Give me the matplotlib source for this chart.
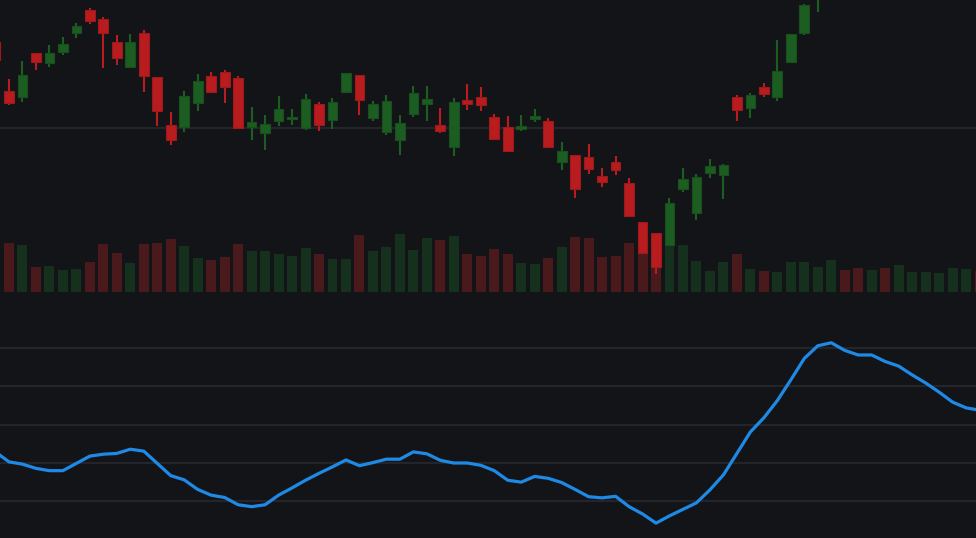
import matplotlib
matplotlib.use("Agg")
import matplotlib.pyplot as plt
import numpy as np

# ---------------- data (one entry per bar, left to right) ----------------
opens = [142.75, 118.25, 115.4, 137.1, 132.4, 137.75, 147.25, 158.75, 154.25, 142.75,
         130.25, 147.25, 125.1, 101.25, 100.25, 112.4, 125.75, 127.75, 124.75, 100.25,
         97.4, 103.25, 104.4, 99.75, 111.75, 103.75, 117.75, 126.25, 104.75, 97.75,
         93.75, 106.75, 111.75, 101.25, 90.25, 113.75, 115.25, 105.25, 100.25, 99.25,
         104.25, 103.25, 82.9, 86.1, 85.1, 75.6, 82.75, 72.25, 52.75, 47.25,
         41.25, 69.25, 57.25, 77.25, 76.25, 115.25, 109.9, 120.25, 115.25, 132.75,
         147.25, 166.5, 178, 192, 186, 181, 188, 183, 190, 196,
         201, 207, 212, 218]
closes = [133.75, 112.4, 126.25, 132.9, 137.25, 141.75, 150.75, 153.4, 147.4, 134.9,
          142.9, 125.9, 108.4, 93.9, 115.75, 123.25, 117.9, 120.4, 99.9, 102.75,
          101.75, 109.25, 105.25, 114.25, 101.25, 112.75, 127.25, 113.75, 111.75, 113.25,
          102.25, 117.25, 114.25, 98.25, 112.75, 111.9, 111.4, 94.4, 88.4, 100.75,
          105.75, 90.4, 88.25, 69.4, 79.4, 72.9, 78.9, 55.9, 37.4, 30.4,
          62.25, 74.25, 75.25, 80.75, 81.25, 108.9, 116.25, 116.9, 128.25, 146.75,
          161.25, 180, 192, 186, 181, 188, 183, 190, 196, 201,
          207, 212, 218, 214]
highs = [143.75, 124.25, 133.25, 137.1, 141.25, 145.25, 152.25, 159.75, 155.25, 146.25,
         146.9, 148.75, 125.1, 107.75, 118.25, 126.75, 127.75, 128.75, 125.6, 110.25,
         106.25, 115.75, 109.25, 116.75, 112.75, 114.75, 127.25, 126.25, 113.25, 116.25,
         106.25, 120.75, 120.75, 109.75, 114.75, 121.75, 120.25, 106.75, 105.75, 106.25,
         109.25, 104.75, 92.75, 86.1, 91.75, 79.75, 85.75, 74.75, 52.75, 47.25,
         64.75, 79.75, 76.75, 84.25, 81.75, 116.25, 117.25, 122.25, 143.75, 146.75,
         161.75, 184, 195, 196, 189, 191, 190, 193, 199, 204,
         210, 215, 221, 220]
lows = [132.75, 111.4, 112.9, 128.75, 130.4, 136.25, 144.9, 151.75, 129.75, 131.25,
        130.25, 117.75, 100.75, 91.25, 97.75, 108.25, 117.9, 112.25, 99.4, 93.75,
        88.75, 100.75, 101.25, 98.75, 98.25, 99.25, 117.75, 106.25, 103.25, 96.25,
        86.25, 105.25, 103.25, 97.25, 85.75, 108.75, 108.25, 94.4, 87.9, 98.25,
        102.75, 90.4, 78.75, 64.75, 76.75, 70.25, 76.25, 55.9, 36.75, 26.75,
        41.25, 67.75, 53.75, 74.75, 64.25, 103.25, 104.75, 115.25, 113.25, 132.75,
        146.25, 157.75, 176, 183, 178, 179, 180, 181, 188, 194,
        199, 205, 210, 211]
volumes = [357, 487, 470, 250, 257, 214, 230, 297, 474, 390,
           287, 480, 487, 530, 460, 337, 320, 350, 480, 410,
           410, 380, 360, 440, 380, 327, 330, 570, 407, 450,
           577, 420, 534, 514, 554, 380, 360, 430, 377, 290,
           280, 337, 450, 547, 537, 347, 360, 487, 517, 417,
           597, 467, 304, 207, 297, 374, 227, 204, 197, 297,
           297, 250, 317, 217, 237, 220, 237, 267, 194, 200,
           187, 237, 230, 207]
indicator = [22.9, 20.3, 19.7, 18.6, 18.0, 18.0, 19.9, 21.8, 22.3, 22.5,
             23.6, 23.1, 19.9, 16.7, 15.6, 13.1, 11.6, 11.0, 9.1, 8.6,
             9.1, 11.6, 13.5, 15.5, 17.3, 19.0, 20.8, 19.3, 20.1, 21.0,
             21.0, 22.9, 22.4, 20.7, 20.0, 20.0, 19.4, 18.0, 15.5, 15.0,
             16.5, 16.0, 14.9, 13.1, 11.2, 10.9, 11.3, 8.6, 6.7, 4.3,
             6.2, 7.9, 9.6, 13.0, 16.9, 22.5, 28.1, 31.8, 36.3, 41.7,
             47.3, 50.6, 51.4, 49.4, 48.2, 48.2, 46.5, 45.3, 43.0, 40.9,
             38.5, 35.9, 34.4, 33.8]
price_grid = [0, 100, 200]
indicator_grid = [10, 20, 30, 40, 50]

# ---------------- style ----------------
BG = "#131418"
GRID = "#24252a"
UP = "#1c5e21"
UP_EDGE = "#184f1c"
DOWN = "#b81c1f"
DOWN_EDGE = "#9c1a1c"
VOL_UP = "#15301c"
VOL_DOWN = "#4a191c"
LINE = "#1f8ae6"

W, H = 976, 538
fig = plt.figure(figsize=(W / 100, H / 100), dpi=100, facecolor=BG)

x = np.arange(len(opens))
o = np.array(opens); c = np.array(closes)
hi = np.array(highs); lo = np.array(lows)
up = c >= o
xlim = (4.5 / 13.48, (W + 4.5) / 13.48)

top_px = 291.7
ax_v = fig.add_axes([0, 1 - top_px / H, 1, top_px / H])
ax_v.set_facecolor(BG)
ax_v.bar(x, volumes, width=0.74, color=[VOL_UP if u else VOL_DOWN for u in up],
         linewidth=0)
ax_v.set_ylim(0, top_px * 10)
ax_v.set_xlim(*xlim)
ax_v.axis("off")

ax_p = ax_v.twinx()
ax_p.patch.set_alpha(0)
ax_p.set_xlim(*xlim)
ax_p.set_ylim(163.75 - top_px / 2, 163.75)
for yv in price_grid:
    ax_p.axhline(yv, color=GRID, lw=1.6, zorder=0)
cols = [UP if u else DOWN for u in up]
edges = [UP_EDGE if u else DOWN_EDGE for u in up]
ax_p.vlines(x, lo, hi, colors=cols, lw=1.5, zorder=2)
bottoms = np.minimum(o, c)
heights = np.maximum(np.abs(c - o), 0.9)
ax_p.bar(x, heights, bottom=bottoms, width=0.72, color=cols, edgecolor=edges,
         linewidth=0.8, zorder=3)
ax_p.axis("off")

# lower indicator panel
ax_i = fig.add_axes([0, 0, 1, (H - top_px) / H])
ax_i.set_facecolor(BG)
ax_i.set_xlim(*xlim)
ax_i.set_ylim(10 - (538 - 501.3) / 3.83, 10 + (501.3 - top_px) / 3.83)
for yv in indicator_grid:
    ax_i.axhline(yv, color=GRID, lw=1.6, zorder=0)
ax_i.plot(x, indicator, color=LINE, lw=2.3, solid_joinstyle="round", zorder=3)
ax_i.axis("off")
ax_v.set_zorder(1); ax_p.set_zorder(2); ax_i.set_zorder(0)

fig.savefig("out.png", dpi=100, facecolor=BG)
